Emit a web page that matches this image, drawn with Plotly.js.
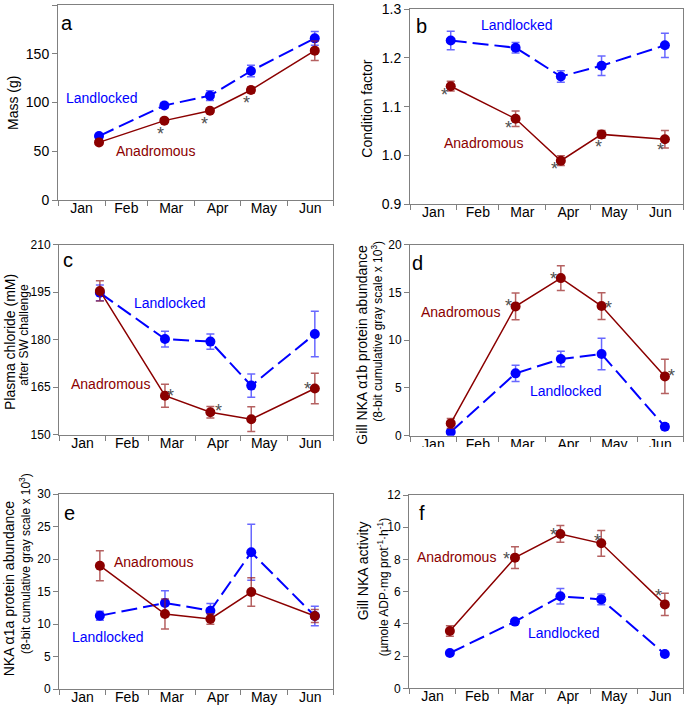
<!DOCTYPE html>
<html>
<head>
<meta charset="utf-8">
<script src="https://cdn.plot.ly/plotly-3.0.1.min.js"></script>
<style>
  body { margin: 0; padding: 0; background: #fff; }
  #chart { width: 685px; height: 705px; }
</style>
</head>
<body>
<div id="chart"></div>
<script>
// sampling dates (no February sample)
var sampleDates = ['2011-01-28', '2011-03-12', '2011-04-11', '2011-05-08', '2011-06-19'];

// a - mass (g)
var massLand = [65.6, 97, 107, 132.3, 165.8];
var massLandErr = [2, 3, 5, 6, 7];
var massAnad = [59.1, 81.4, 91.6, 112.8, 153.2];
var massAnadErr = [2, 2, 2, 3, 10];

// b - condition factor
var cfLand = [1.236, 1.221, 1.162, 1.184, 1.226];
var cfLandErr = [0.019, 0.011, 0.012, 0.02, 0.025];
var cfAnad = [1.142, 1.075, 0.989, 1.043, 1.033];
var cfAnadErr = [0.01, 0.016, 0.01, 0.008, 0.018];

// c - plasma chloride after SW challenge
var clLand = [194.8, 180.2, 179.4, 165.5, 181.8];
var clLandErr = [2.5, 2.5, 2.4, 3.7, 7.2];
var clAnad = [195.4, 162.3, 157.1, 154.9, 164.6];
var clAnadErr = [3.2, 3.6, 1.8, 3.9, 4.8];

// d - gill NKA a1b
var a1bLand = [0.38, 6.53, 8.03, 8.55, 0.94];
var a1bLandErr = [0.2, 0.85, 0.8, 1.65, 0.3];
var a1bAnad = [1.29, 13.54, 16.5, 13.58, 6.21];
var a1bAnadErr = [0.5, 1.4, 1.3, 1.4, 1.8];

// e - NKA a1a
var a1aLand = [11.28, 13.23, 12.05, 21.03, 11.23];
var a1aLandErr = [0.7, 1.9, 1.1, 4.3, 1.5];
var a1aAnad = [18.97, 11.54, 10.77, 14.92, 11.23];
var a1aAnadErr = [2.3, 2.3, 0.8, 2.2, 1.0];

// f - gill NKA activity
var nkaLand = [2.19, 4.14, 5.71, 5.52, 2.13];
var nkaLandErr = [0.1, 0.15, 0.48, 0.33, 0.1];
var nkaAnad = [3.56, 8.11, 9.58, 9.0, 5.21];
var nkaAnadErr = [0.33, 0.68, 0.52, 0.8, 0.69];

// significance stars: [point index, x shift px, y shift px]
var starsA = [[1, -4, -8], [2, -5, -8], [3, -4, -8]];
var starsB = [[0, -6, -4], [1, -7, -4], [2, -6, -3], [3, -3, -8], [4, -4, -6]];
var starsC = [[1, 6, 5], [2, 8, 6], [4, -7, 4]];
var starsD = [[1, -7, 5], [2, -7, 4], [3, 7, 3], [4, 7, 5]];
var starsF = [[1, -8, 4], [2, -7, 4], [3, -4, 7], [4, -6, 13]];

var W = 685, H = 705;
var BLUE = '#0000ff', RED = '#8b0000';
function px(x) { return x / W; }
function py(y) { return 1 - y / H; }

var data = [];
var layout = {
  width: W, height: H,
  margin: {l: 0, r: 0, t: 0, b: 0},
  paper_bgcolor: '#fff', plot_bgcolor: '#fff',
  showlegend: false,
  font: {family: 'Liberation Sans, Arial, sans-serif', color: '#000'},
  annotations: [],
  shapes: []
};

function addPanel(n, box, yr, ytick, tickSize, land, landErr, anad, anadErr, stars) {
  var sfx = n === 1 ? '' : String(n);
  var xa = 'x' + sfx, ya = 'y' + sfx;
  layout['xaxis' + sfx] = {
    type: 'date', domain: [px(box[0]), px(box[1])], anchor: ya,
    range: ['2011-01-01', '2011-07-01'], tick0: '2011-01-01', dtick: 'M1',
    tickformat: '%b', ticklabelmode: 'period', ticklabelstandoff: -10,
    ticks: 'outside', ticklen: 5, tickcolor: '#808080',
    showline: true, linecolor: '#808080', mirror: true,
    showgrid: false, zeroline: false,
    tickfont: {size: 14, color: '#000'}
  };
  layout['yaxis' + sfx] = {
    domain: [py(box[3]), py(box[2])], anchor: xa,
    range: yr, dtick: ytick, tickformat: yr[1] < 2 ? '.1f' : '',
    ticks: 'outside', ticklen: 5, tickcolor: '#808080',
    showline: true, linecolor: '#808080', mirror: true,
    showgrid: false, zeroline: false,
    tickfont: {size: tickSize, color: '#000'}
  };
  data.push({
    x: sampleDates, y: land, xaxis: xa, yaxis: ya, type: 'scatter', mode: 'lines+markers',
    name: 'Landlocked', line: {color: BLUE, width: 2, dash: '16px,6px'},
    marker: {color: BLUE, size: 10},
    error_y: {type: 'data', array: landErr, color: 'rgba(40,40,255,0.7)', thickness: 1.5, width: 4}
  });
  data.push({
    x: sampleDates, y: anad, xaxis: xa, yaxis: ya, type: 'scatter', mode: 'lines+markers',
    name: 'Anadromous', line: {color: RED, width: 1.5},
    marker: {color: RED, size: 10},
    error_y: {type: 'data', array: anadErr, color: 'rgba(150,30,30,0.7)', thickness: 1.5, width: 4}
  });
  (stars || []).forEach(function (s) {
    layout.annotations.push({
      xref: xa, yref: ya, x: sampleDates[s[0]], y: anad[s[0]],
      xshift: s[1], yshift: s[2] - 5, text: '*', showarrow: false,
      font: {size: 18, color: '#505050'}
    });
  });
}

function label(text, x, y, color, size) {
  layout.annotations.push({
    xref: 'paper', yref: 'paper', x: px(x), y: py(y), text: text,
    showarrow: false, xanchor: 'center', yanchor: 'middle',
    font: {size: size || 14, color: color || '#000'}
  });
}
function ylabel(text, x, y, size) {
  layout.annotations.push({
    xref: 'paper', yref: 'paper', x: px(x), y: py(y), text: text, textangle: -90,
    showarrow: false, xanchor: 'center', yanchor: 'middle',
    font: {size: size, color: '#000'}
  });
}

addPanel(1, [58, 333, 5, 200], [0, 200], 50, 14, massLand, massLandErr, massAnad, massAnadErr, starsA);
addPanel(2, [410, 683, 9.3, 204], [0.9, 1.3], 0.1, 14, cfLand, cfLandErr, cfAnad, cfAnadErr, starsB);
addPanel(3, [59, 333, 244.7, 434.7], [150, 210], 15, 12, clLand, clLandErr, clAnad, clAnadErr, starsC);
addPanel(4, [410, 683, 244.7, 435.7], [0, 20], 5, 12, a1bLand, a1bLandErr, a1bAnad, a1bAnadErr, starsD);
addPanel(5, [59, 333, 494, 689], [0, 30], 5, 12, a1aLand, a1aLandErr, a1aAnad, a1aAnadErr, null);
addPanel(6, [409, 683, 495, 688.3], [0, 12], 2, 12, nkaLand, nkaLandErr, nkaAnad, nkaAnadErr, starsF);

// panel letters
label('a', 66.7, 22.7, '#000', 20);
label('b', 421.7, 26, '#000', 20);
label('c', 68, 260, '#000', 20);
label('d', 417, 263, '#000', 20);
label('e', 69, 512.7, '#000', 20);
label('f', 421.7, 512.7, '#000', 20);

// series labels
label('Landlocked', 101.7, 98, BLUE);
label('Anadromous', 155, 151, RED);
label('Landlocked', 517, 25, BLUE);
label('Anadromous', 483, 143, RED);
label('Landlocked', 170, 302.7, BLUE);
label('Anadromous', 110, 384, RED);
label('Anadromous', 460.7, 311.7, RED);
label('Landlocked', 566, 390.7, BLUE);
label('Anadromous', 153, 561.7, RED);
label('Landlocked', 108, 636.7, BLUE);
label('Anadromous', 456, 557.3, RED);
label('Landlocked', 564, 632.7, BLUE);

// y axis titles
ylabel('Mass (g)', 13, 103, 14);
ylabel('Condition factor', 366.7, 109, 14);
ylabel('Plasma chloride (mM)', 10, 342, 14);
ylabel('after SW challenge', 23.3, 334.5, 12);
ylabel('Gill NKA \u03b11b protein abundance', 361.7, 345, 14);
ylabel('(8-bit cumulative gray scale x 10<sup>3</sup>)', 376.7, 331, 12);
ylabel('NKA \u03b11a protein abundance', 9.3, 588, 14);
ylabel('(8-bit cumulative gray scale x 10<sup>3</sup>)', 25, 564, 12);
ylabel('Gill NKA activity', 363.3, 571, 14);
ylabel('(\u00b5mole ADP\u00b7mg prot<sup>-1</sup>\u00b7h<sup>-1</sup>)', 383.3, 587, 12);

// month labels of panel d are clipped in the original figure
layout.shapes.push({
  type: 'rect', xref: 'paper', yref: 'paper', layer: 'above',
  x0: px(395), x1: 1, y0: py(470), y1: py(447),
  fillcolor: '#fff', line: {width: 0}
});

Plotly.newPlot('chart', data, layout, {staticPlot: true});
</script>
</body>
</html>
